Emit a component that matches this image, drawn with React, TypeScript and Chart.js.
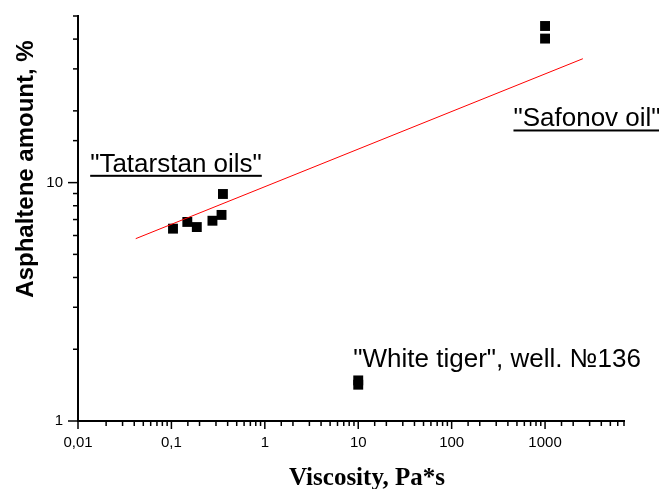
import React, { useEffect, useRef } from "react";
import { Chart, registerables } from "chart.js";

Chart.register(...registerables);

// ---- data ----
const tatarstanViscosity = [0.104, 0.148, 0.187, 0.275, 0.344, 0.356];
const tatarstanAsphaltene = [6.41, 6.84, 6.51, 6.92, 7.32, 8.96];
const safonovViscosity = [1000, 1000];
const safonovAsphaltene = [45.4, 40.2];
const whiteTigerViscosity = [10, 10];
const whiteTigerAsphaltene = [1.48, 1.42];
const fitViscosity = [0.0415, 2540];
const fitAsphaltene = [5.82, 33.1];

const xTickValues = [0.01, 0.1, 1, 10, 100, 1000];
const xTickLabels = ["0,01", "0,1", "1", "10", "100", "1000"];
const yTickValues = [1, 10];
const yTickLabels = ["1", "10"];

const annotationTexts = ['"Tatarstan oils"', '"Safonov oil"', '"White tiger", well. №136'];
const xAxisTitle = "Viscosity, Pa*s";
const yAxisTitle = "Asphaltene amount, %";

const SANS = "'Liberation Sans', Arial, sans-serif";
const SERIF = "'Liberation Serif', 'Times New Roman', serif";

function pairs(xs: number[], ys: number[]) {
  return xs.map((x, i) => ({ x, y: ys[i] }));
}

function labelFor(values: number[], labels: string[], v: number) {
  const i = values.findIndex((t) => Math.abs(Math.log10(t) - Math.log10(v)) < 1e-6);
  return i >= 0 ? labels[i] : "";
}

const overlayPlugin = {
  id: "overlay",
  afterDraw(chart: any) {
    const { ctx, chartArea, scales } = chart;
    const xs = scales.x;
    const ys = scales.y;
    ctx.save();
    ctx.strokeStyle = "#000";
    ctx.lineWidth = 1.5;
    // x tick marks
    xs.ticks.forEach((t: any) => {
      const px = xs.getPixelForValue(t.value);
      const lg = Math.log10(t.value);
      const major = Math.abs(lg - Math.round(lg)) < 1e-6;
      ctx.beginPath();
      ctx.moveTo(px, chartArea.bottom);
      ctx.lineTo(px, chartArea.bottom + (major ? 8 : 5));
      ctx.stroke();
    });
    // y tick marks
    ys.ticks.forEach((t: any) => {
      const py = ys.getPixelForValue(t.value);
      const lg = Math.log10(t.value);
      const major = Math.abs(lg - Math.round(lg)) < 1e-6;
      ctx.beginPath();
      ctx.moveTo(chartArea.left, py);
      ctx.lineTo(chartArea.left - (major ? 10 : 5), py);
      ctx.stroke();
    });

    // annotations
    ctx.fillStyle = "#000";
    ctx.font = `26px ${SANS}`;
    ctx.textBaseline = "alphabetic";
    ctx.textAlign = "left";
    const ann = [
      { text: annotationTexts[0], x: 0.0135, y: 11.1, underline: true },
      { text: annotationTexts[1], x: 459, y: 17.2, underline: true },
      { text: annotationTexts[2], x: 8.86, y: 1.686, underline: false },
    ];
    ann.forEach((a) => {
      const px = xs.getPixelForValue(a.x);
      const py = ys.getPixelForValue(a.y);
      ctx.fillText(a.text, px, py);
      if (a.underline) {
        const w = ctx.measureText(a.text).width;
        ctx.fillRect(px, py + 3, w, 2);
      }
    });

    // axis titles
    ctx.font = `bold 25px ${SERIF}`;
    ctx.textAlign = "center";
    ctx.fillText(xAxisTitle, 367, 485);

    ctx.save();
    ctx.translate(33, 169);
    ctx.rotate(-Math.PI / 2);
    ctx.font = `bold 24px ${SANS}`;
    ctx.textAlign = "center";
    ctx.textBaseline = "alphabetic";
    ctx.fillText(yAxisTitle, 0, 0);
    ctx.restore();

    ctx.restore();
  },
};

export default function App() {
  const ref = useRef<HTMLCanvasElement | null>(null);

  useEffect(() => {
    if (!ref.current) return;
    const pointDs = (label: string, xs: number[], ys: number[]) => ({
      label,
      data: pairs(xs, ys),
      pointStyle: "rect",
      pointRadius: 7,
      pointHoverRadius: 7,
      backgroundColor: "#000",
      borderColor: "#000",
      borderWidth: 0,
      showLine: false,
    });
    const chart = new Chart(ref.current, {
      type: "scatter",
      data: {
        datasets: [
          {
            label: "fit",
            data: pairs(fitViscosity, fitAsphaltene),
            showLine: true,
            borderColor: "#ff0000",
            borderWidth: 1,
            pointRadius: 0,
            fill: false,
          } as any,
          pointDs("Tatarstan", tatarstanViscosity, tatarstanAsphaltene),
          pointDs("Safonov", safonovViscosity, safonovAsphaltene),
          pointDs("White tiger", whiteTigerViscosity, whiteTigerAsphaltene),
        ],
      },
      options: {
        animation: false,
        responsive: false,
        events: [],
        layout: { padding: { left: 0, right: 35, top: 16, bottom: 0 } },
        plugins: {
          legend: { display: false },
          tooltip: { enabled: false },
          title: { display: false },
        },
        scales: {
          x: {
            type: "logarithmic",
            min: 0.01,
            max: 7000,
            position: "bottom",
            grid: { display: false, drawTicks: false },
            border: { display: true, color: "#000", width: 2 },
            afterFit: (s: any) => {
              s.height = 68;
              s.paddingLeft = 0;
              s.paddingRight = 0;
            },
            ticks: {
              autoSkip: false,
              maxRotation: 0,
              minRotation: 0,
              padding: 13,
              color: "#000",
              font: { family: SANS, size: 15 },
              callback: (v: any) => labelFor(xTickValues, xTickLabels, Number(v)),
            },
          },
          y: {
            type: "logarithmic",
            min: 1,
            max: 50,
            position: "left",
            grid: { display: false, drawTicks: false },
            border: { display: true, color: "#000", width: 2 },
            afterFit: (s: any) => {
              s.width = 78;
              s.paddingTop = 0;
              s.paddingBottom = 0;
            },
            ticks: {
              autoSkip: false,
              padding: 15,
              color: "#000",
              font: { family: SANS, size: 15 },
              callback: (v: any) => labelFor(yTickValues, yTickLabels, Number(v)),
            },
          },
        },
      } as any,
      plugins: [overlayPlugin],
    });
    return () => chart.destroy();
  }, []);

  return (
    <div style={{ position: "fixed", left: 0, top: 0, width: 659, height: 489, background: "#fff" }}>
      <canvas ref={ref} width={659} height={489} style={{ display: "block" }} />
    </div>
  );
}
